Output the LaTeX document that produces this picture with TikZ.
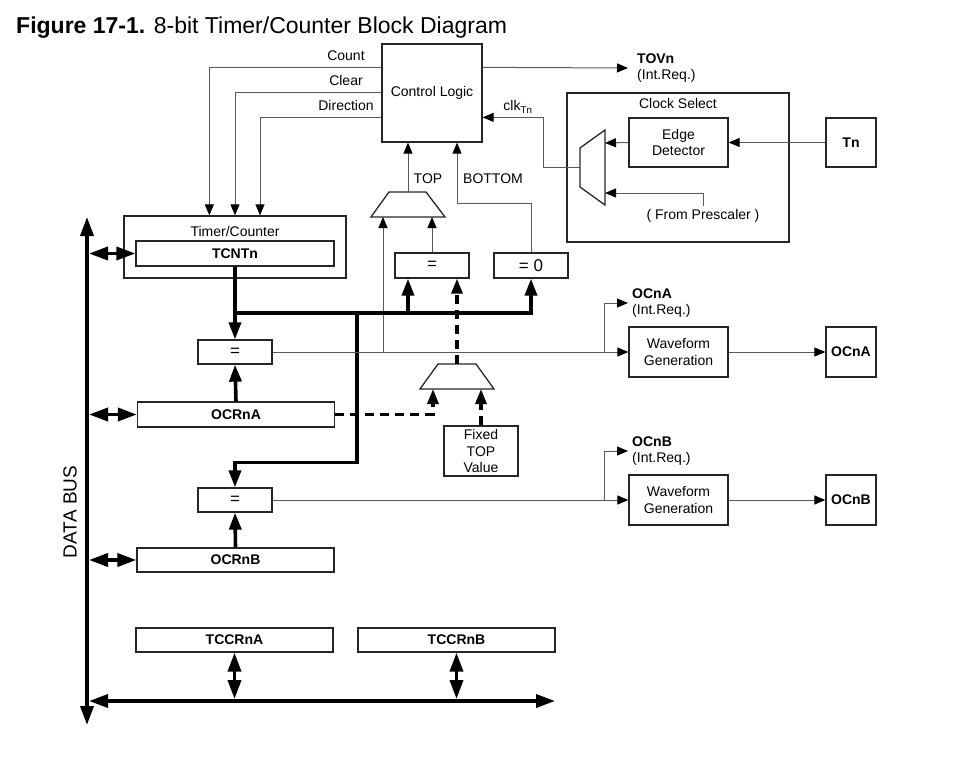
\documentclass[tikz,border=0pt]{standalone}
\usepackage{fontspec}
\setmainfont{Liberation Sans}
\usepackage{tikz}
\usetikzlibrary{calc, positioning, arrows.meta}

\begin{document}
\begin{tikzpicture}[x=1pt, y=-1pt, font=\fontsize{14}{16.5}\selectfont,
    blk/.style={draw=black!85, line width=1.3pt, inner sep=0pt, align=center},
    eqbox/.style={blk, minimum width=74pt, font=\fontsize{17}{18}\selectfont},
    sig/.style={draw=black!65, line width=1pt, -{Triangle[length=11pt, width=9pt, color=black]}},
    bus/.style={line width=3.6pt, line join=miter, -{Triangle[length=17pt, width=12pt]}},
    dbus/.style={line width=3.2pt, dash pattern=on 9pt off 6pt, -{Triangle[length=15pt, width=11pt]}},
    dbl/.style={line width=3.6pt, {Triangle[length=19pt, width=13pt]}-{Triangle[length=19pt, width=13pt]}},
    mux/.style={draw=black!85, line width=1.3pt, line join=miter},
    irq/.style={anchor=west, align=left, inner ysep=0pt}]

  \useasboundingbox (0,0) rectangle (978,771);

  % title
  \node[anchor=base west, inner sep=0pt, font=\fontsize{23}{26}\selectfont] (title) at (16,33)
    {\textbf{Figure 17-1.} 8-bit Timer/Counter Block Diagram};

  % blocks
  \node[blk, minimum width=100pt, minimum height=98pt] (ctrl) at (432,93) {Control Logic};
  \node[blk, minimum width=222pt, minimum height=62pt] (tc) at (235,247) {};
  \node at (235,231) {Timer/Counter};
  \node[blk, minimum width=198pt, minimum height=25pt] (tcnt) at (235,253.5) {\textbf{TCNTn}};
  \node[eqbox, minimum height=24pt] (eqa) at (235,352) {=};
  \node[blk, minimum width=197pt, minimum height=25pt] (ocra) at (236,414.5) {\textbf{OCRnA}};
  \node[eqbox, minimum height=24pt] (eqb) at (235,500) {=};
  \node[blk, minimum width=197pt, minimum height=24pt] (ocrb) at (235.5,560) {\textbf{OCRnB}};
  \node[blk, minimum width=197pt, minimum height=24pt] (tccra) at (234.5,640) {\textbf{TCCRnA}};
  \node[blk, minimum width=197pt, minimum height=24pt] (tccrb) at (456.5,640) {\textbf{TCCRnB}};
  \node[eqbox, minimum height=25pt] (eqt) at (432,265.5) {=};
  \node[eqbox, minimum height=25pt] (eqz) at (531,265.5) {= 0};
  \node[blk, minimum width=74pt, minimum height=50pt] (fixtop) at (481,451) {Fixed\\TOP\\Value};

  \node[blk, minimum width=222pt, minimum height=149pt] (cs) at (678,167.5) {};
  \node at (678,103) {Clock Select};
  \node[blk, minimum width=99pt, minimum height=49pt] (edge) at (678.5,142.5) {Edge\\Detector};
  \node[blk, minimum width=50pt, minimum height=49pt] (tn) at (851,142.5) {\textbf{Tn}};
  \node (presc) at (703,216) {( From Prescaler )};

  \node[blk, minimum width=99pt, minimum height=50pt] (wga) at (678.5,352) {Waveform\\Generation};
  \node[blk, minimum width=99pt, minimum height=50pt] (wgb) at (678.5,500) {Waveform\\Generation};
  \node[blk, minimum width=50pt, minimum height=50pt] (outa) at (851,352) {\textbf{OCnA}};
  \node[blk, minimum width=50pt, minimum height=50pt] (outb) at (851,500) {\textbf{OCnB}};

  \node[irq, inner xsep=9pt] (tovn) at (628,68) {\textbf{TOVn}\\(Int.Req.)};
  \node[irq, inner xsep=4pt] (ocna) at (628,303) {\textbf{OCnA}\\(Int.Req.)};
  \node[irq, inner xsep=4pt] (ocnb) at (628,451) {\textbf{OCnB}\\(Int.Req.)};

  % multiplexers
  \draw[mux] (580,148) -- (605,130) -- (605,205) -- (580,187) -- cycle;
  \coordinate (csout) at (580,167);
  \coordinate (csin1) at (605,143);
  \coordinate (csin2) at (605,193);
  \draw[mux] (371,217) -- (389,192) -- (426,192) -- (445,217) -- cycle;
  \coordinate (mtopout) at (408,192);
  \coordinate (mtopinl) at (383,217);
  \coordinate (mtopinr) at (432,217);
  \draw[mux] (420,389) -- (438,364) -- (476,364) -- (494,389) -- cycle;
  \coordinate (mfixout) at (457,364);
  \coordinate (mfixinl) at (433,389);
  \coordinate (mfixinr) at (481,389);

  % control signals
  \draw[sig] ($(ctrl.north west)+(0,24)$) -| ($(tc.north west)+(86,0)$);
  \draw[sig] ($(ctrl.north west)+(0,49)$) -| (tc.north);
  \draw[sig] ($(ctrl.north west)+(0,74)$) -| ($(tc.north)+(25,0)$);
  \node at (346,56) {Count};
  \node at (346,80) {Clear};
  \node at (346,105) {Direction};
  \draw[sig] ($(ctrl.north east)+(0,24)$) -- (tovn.west);

  % clock select
  \draw[sig] (csout) -- ++(-37,0) |- ($(ctrl.north east)+(0,74)$);
  \node at (518,107) {clk\textsubscript{Tn}};
  \draw[sig] (edge.west) -- (csin1);
  \draw[sig] (tn.west) -- (edge.east);
  \draw[sig] (presc.north) |- (csin2);

  % top / bottom
  \draw[sig] (mtopout) -- (mtopout |- ctrl.south);
  \draw[sig] (eqz.north) -- ++(0,-49) -| ($(ctrl.south)+(25,0)$);
  \node at (428,179) {TOP};
  \node at (493,179) {BOTTOM};
  \draw[sig] (eqa.east -| mtopinl) -- (mtopinl);
  \draw[sig] (eqt.north) -- (mtopinr);

  % counter value bus
  \coordinate (bj) at (235,313);
  \coordinate (bk) at (357,313);
  \coordinate (eqtin) at ($(eqt.south)+(-24,0)$);
  \draw[bus] (tcnt.south) -- (eqa.north);
  \draw[bus] (bj) -| (eqz.south);
  \draw[bus] (eqtin |- bj) -- (eqtin);
  \draw[bus] (bk) |- ($(eqb.north)+(0,-25)$) -- (eqb.north);
  \draw[bus] (ocra.north) -- (eqa.south);
  \draw[bus] (ocrb.north) -- (eqb.south);

  % fixed top
  \draw[dbus] (ocra.east) -| (mfixinl);
  \draw[dbus] (fixtop.north) -- (mfixinr);
  \draw[dbus] (mfixout) -- (mfixout |- eqt.south);

  % compare outputs
  \draw[sig] (eqa.east) -- (wga.west);
  \draw[sig] ($(wga.west)+(-24,0)$) |- (ocna.west);
  \draw[sig] (wga.east) -- (outa.west);
  \draw[sig] (eqb.east) -- (wgb.west);
  \draw[sig] ($(wgb.west)+(-24,0)$) |- (ocnb.west);
  \draw[sig] (wgb.east) -- (outb.west);

  % data bus
  \coordinate (dbtop) at (87,217);
  \coordinate (dbbot) at (87,725);
  \coordinate (dbx) at (89,0);
  \coordinate (hbl) at (89,701);
  \coordinate (hbr) at (555,701);
  \coordinate (hbt) at (0,699);
  \draw[dbl] (dbtop) -- (dbbot);
  \draw[dbl] (hbl) -- (hbr);
  \draw[dbl] (tcnt.west -| dbx) -- (tcnt.west);
  \draw[dbl] (ocra.west -| dbx) -- (ocra.west);
  \draw[dbl] (ocrb.west -| dbx) -- (ocrb.west);
  \draw[dbl] (tccra.south) -- (tccra.south |- hbt);
  \draw[dbl] (tccrb.south) -- (tccrb.south |- hbt);
  \node[rotate=90, font=\fontsize{19}{22}\selectfont] at (70,512) {DATA BUS};
\end{tikzpicture}
\end{document}
